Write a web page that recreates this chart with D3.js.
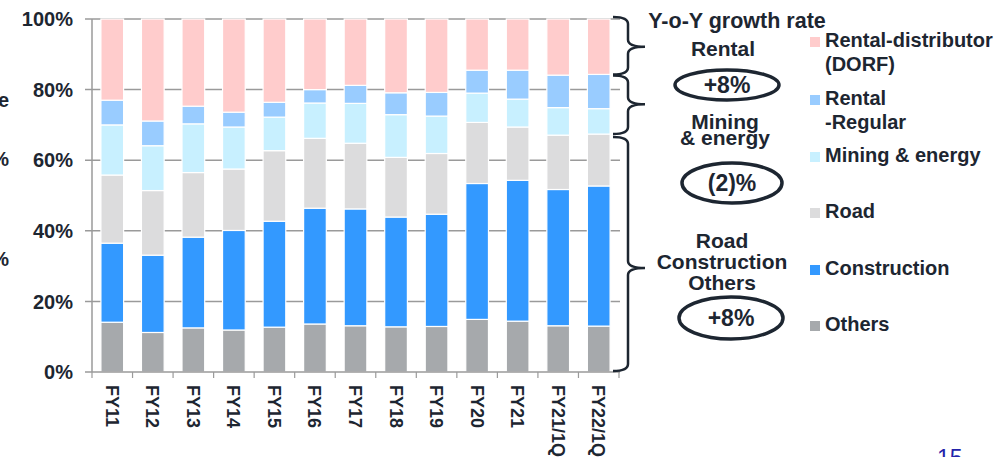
<!DOCTYPE html>
<html>
<head>
<meta charset="utf-8">
<script src="https://cdn.jsdelivr.net/npm/d3@7/dist/d3.min.js"></script>
<style>
  body { margin: 0; background: #fff; }
  text { font-family: "Liberation Sans", Arial, sans-serif; font-weight: bold; fill: #1d2631; }
</style>
</head>
<body>
<div id="chart"></div>
<script>
// data (% of total)
var categories = ["FY11", "FY12", "FY13", "FY14", "FY15", "FY16", "FY17", "FY18", "FY19", "FY20", "FY21", "FY21/1Q", "FY22/1Q"];
var others       = [14.1, 11.2, 12.5, 11.9, 12.7, 13.6, 13.1, 12.8, 12.9, 14.9, 14.4, 13.1, 13.0];
var construction = [22.4, 21.9, 25.7, 28.2, 30.0, 32.8, 33.1, 31.1, 31.8, 38.5, 39.9, 38.6, 39.7];
var road         = [19.3, 18.3, 18.3, 17.4, 20.0, 19.8, 18.6, 16.9, 17.2, 17.3, 15.1, 15.4, 14.7];
var mining       = [14.2, 12.7, 13.8, 11.9,  9.5, 10.0, 11.3, 12.1, 10.6,  8.3,  7.9,  7.8,  7.2];
var regular      = [ 7.0,  7.0,  5.0,  4.2,  4.2,  3.8,  5.1,  6.2,  6.7,  6.5,  8.2,  9.2,  9.7];
var dorf         = [23.0, 28.9, 24.7, 26.4, 23.6, 20.0, 18.8, 20.9, 20.8, 14.5, 14.5, 15.9, 15.7];
var yTicks = [0, 20, 40, 60, 80, 100];

var keys = ["others", "construction", "road", "mining", "regular", "dorf"];
var colors = ["#a6a9ac", "#3399ff", "#dcdcdd", "#c8f0ff", "#99ccff", "#ffcccc"];

// legend, top to bottom
var legendKeys = ["dorf", "regular", "mining", "road", "construction", "others"];
var legendLabels = [["Rental-distributor", "(DORF)"], ["Rental", "-Regular"], ["Mining & energy"], ["Road"], ["Construction"], ["Others"]];

// growth annotations
var groupLabels = [["Rental"], ["Mining", "& energy"], ["Road", "Construction", "Others"]];
var growthRates = ["+8%", "(2)%", "+8%"];

var svgWidth = 1004, svgHeight = 457;
var svg = d3.select("#chart").append("svg")
    .attr("width", svgWidth)
    .attr("height", svgHeight);

var plotLeft = 92, plotRight = 619, plotTop = 19, plotBottom = 372;

var rows = categories.map(function (c, i) {
    return { cat: c, others: others[i], construction: construction[i], road: road[i],
             mining: mining[i], regular: regular[i], dorf: dorf[i] };
});
var stacked = d3.stack().keys(keys)(rows);

var x = d3.scaleBand().domain(categories).range([plotLeft, plotRight])
    .paddingInner(0.44).paddingOuter(0.22);
var xb = d3.scaleBand().domain(categories).range([plotLeft, plotRight]);
var y = d3.scaleLinear().domain([0, 100]).range([plotBottom, plotTop]);

// gridlines
svg.append("g").selectAll("line")
    .data(yTicks.filter(function (d) { return d > 0; }))
    .enter().append("line")
    .attr("x1", plotLeft - 7).attr("x2", plotRight + 1)
    .attr("y1", function (d) { return y(d); })
    .attr("y2", function (d) { return y(d); })
    .attr("stroke", "#9a9a9a").attr("stroke-width", 1.5);

// y axis line + labels
svg.append("line")
    .attr("x1", plotLeft).attr("x2", plotLeft)
    .attr("y1", y(100)).attr("y2", y(0))
    .attr("stroke", "#9a9a9a").attr("stroke-width", 1.5);

svg.append("g").selectAll("text")
    .data(yTicks)
    .enter().append("text")
    .attr("x", 73)
    .attr("y", function (d) { return y(d); })
    .attr("dy", "0.36em")
    .attr("text-anchor", "end")
    .style("font-size", "20px")
    .text(function (d) { return d + "%"; });

// bars
svg.append("g").selectAll("g")
    .data(stacked)
    .enter().append("g")
    .attr("fill", function (d, i) { return colors[i]; })
    .selectAll("rect")
    .data(function (d) { return d; })
    .enter().append("rect")
    .attr("x", function (d) { return x(d.data.cat); })
    .attr("width", x.bandwidth())
    .attr("y", function (d) { return y(d[1]); })
    .attr("height", function (d) { return y(d[0]) - y(d[1]); })
    .attr("stroke", "#fff")
    .attr("stroke-width", 1.2);

// x axis
svg.append("line")
    .attr("x1", plotLeft - 7).attr("x2", plotRight + 1)
    .attr("y1", plotBottom).attr("y2", plotBottom)
    .attr("stroke", "#9a9a9a").attr("stroke-width", 1.5);

var tickPos = categories.map(function (c) { return xb(c); }).concat([plotRight]);
svg.append("g").selectAll("line")
    .data(tickPos)
    .enter().append("line")
    .attr("x1", function (d) { return d; }).attr("x2", function (d) { return d; })
    .attr("y1", plotBottom).attr("y2", plotBottom + 6)
    .attr("stroke", "#9a9a9a").attr("stroke-width", 1.2);

svg.append("g").selectAll("text")
    .data(categories)
    .enter().append("text")
    .attr("transform", function (d) {
        return "translate(" + (x(d) + x.bandwidth() / 2) + "," + 385 + ") rotate(90)";
    })
    .attr("dy", "0.36em")
    .style("font-size", "18px")
    .text(function (d) { return d; });

// clipped fragments at the left edge
svg.append("text").attr("x", 9).attr("y", 107).attr("text-anchor", "end").style("font-size", "20px").text("e");
svg.append("text").attr("x", 9).attr("y", 166).attr("text-anchor", "end").style("font-size", "20px").text("%");
svg.append("text").attr("x", 9).attr("y", 266).attr("text-anchor", "end").style("font-size", "20px").text("%");

// braces, spans taken from the last bar
var last = rows[rows.length - 1];
var b1 = y(100), b2 = y(100 - last.dorf), b3 = y(last.others + last.construction + last.road);
var braces = [
    { y0: b1 - 2, y1: b2, tip: (b1 + b2) / 2 },
    { y0: b2 + 1, y1: b3, tip: (b2 + b3) / 2 },
    { y0: b3 + 3, y1: y(0) - 1, tip: 268 }
];

function bracePath(b) {
    var x0 = 613, x1 = 628, xt = 645, r = 7;
    return "M" + x0 + "," + b.y0 +
        " Q" + x1 + "," + b.y0 + " " + x1 + "," + (b.y0 + r) +
        " L" + x1 + "," + (b.tip - r) +
        " Q" + x1 + "," + b.tip + " " + xt + "," + b.tip +
        " Q" + x1 + "," + b.tip + " " + x1 + "," + (b.tip + r) +
        " L" + x1 + "," + (b.y1 - r) +
        " Q" + x1 + "," + b.y1 + " " + x0 + "," + b.y1;
}

svg.append("g").selectAll("path")
    .data(braces)
    .enter().append("path")
    .attr("d", bracePath)
    .attr("fill", "none")
    .attr("stroke", "#1d2631")
    .attr("stroke-width", 2.5);

// annotation texts
svg.append("text").attr("x", 737).attr("y", 28).attr("text-anchor", "middle")
    .style("font-size", "21.5px").text("Y-o-Y growth rate");

var groupLayout = [
    { cx: 723, ys: [56], ex: 727, ey: 85, rx: 52, ry: 15 },
    { cx: 725, ys: [129, 145], ex: 732, ey: 183, rx: 50, ry: 20 },
    { cx: 722, ys: [248, 269, 290], ex: 731, ey: 318, rx: 52, ry: 21 }
];

groupLayout.forEach(function (g, i) {
    groupLabels[i].forEach(function (t, j) {
        svg.append("text").attr("x", g.cx).attr("y", g.ys[j])
            .attr("text-anchor", "middle").style("font-size", "21px").text(t);
    });
    svg.append("ellipse")
        .attr("cx", g.ex).attr("cy", g.ey).attr("rx", g.rx).attr("ry", g.ry)
        .attr("fill", "none").attr("stroke", "#1d2631").attr("stroke-width", 3.5);
    svg.append("text").attr("x", g.ex).attr("y", g.ey).attr("dy", "0.36em")
        .attr("text-anchor", "middle").style("font-size", "23px").text(growthRates[i]);
});

// legend
var legendY = [47, 105, 162, 218, 275, 331];
legendKeys.forEach(function (k, i) {
    var ly = legendY[i];
    svg.append("rect")
        .attr("x", 810).attr("y", ly - 10).attr("width", 10).attr("height", 10)
        .attr("fill", colors[keys.indexOf(k)]);
    legendLabels[i].forEach(function (t, j) {
        svg.append("text").attr("x", 825).attr("y", ly + j * 24)
            .style("font-size", "20px").text(t);
    });
});

// page number
svg.append("text").attr("x", 937).attr("y", 466)
    .style("font-size", "23px").style("font-weight", "normal").style("fill", "#2222aa")
    .text("15");
</script>
</body>
</html>
